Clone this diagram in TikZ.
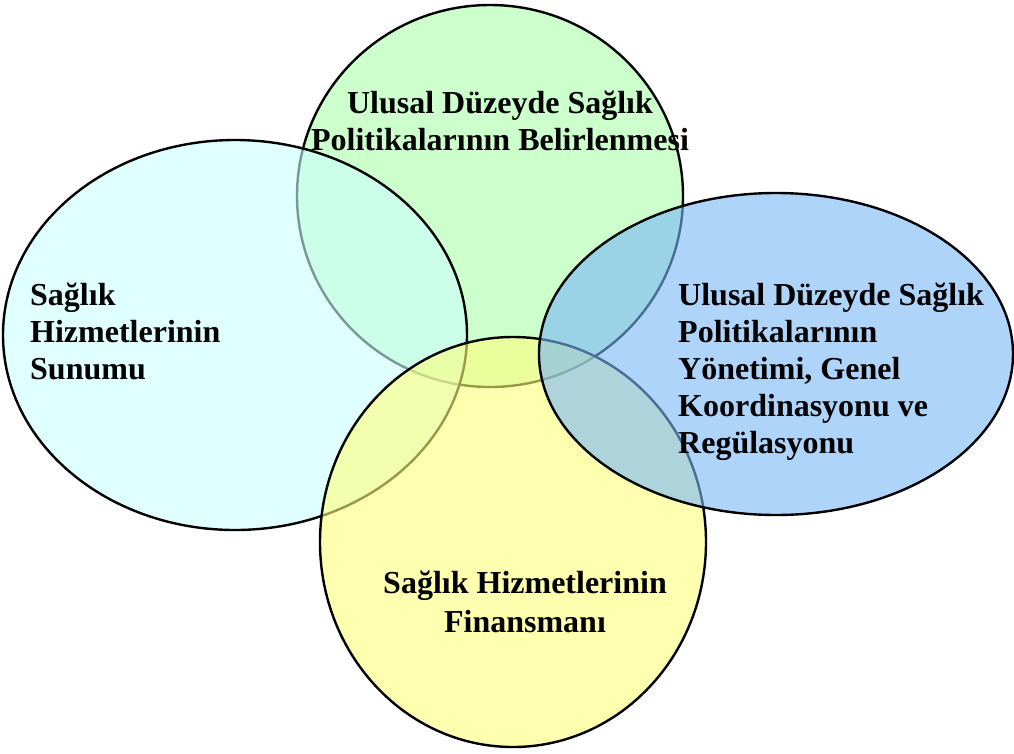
\documentclass[tikz,border=0pt]{standalone}
\usepackage{fontspec}
\setmainfont{Liberation Serif}
\begin{document}
\begin{tikzpicture}[x=1pt,y=-1pt,
    bubble/.style={line width=2.4pt, draw=black, fill opacity=0.6, draw opacity=1},
    label/.style={anchor=base west, inner sep=0pt, font=\fontsize{32}{37}\selectfont\bfseries},
    clabel/.style={anchor=base, inner sep=0pt, font=\fontsize{32}{37}\selectfont\bfseries}]
  \definecolor{cyanfill}{RGB}{203,255,255}
  \definecolor{greenfill}{RGB}{170,255,170}
  \definecolor{yellowfill}{RGB}{255,255,123}
  \definecolor{bluefill}{RGB}{122,183,247}
  \useasboundingbox (0,0) rectangle (1014,753);
  \clip (0,0) rectangle (1014,753);

  % four overlapping fields, later ones laid over earlier ones
  \path[bubble, fill=greenfill]  (490,196) ellipse [x radius=193pt, y radius=191pt];
  \path[bubble, fill=cyanfill]   (235,335) ellipse [x radius=232pt, y radius=195pt];
  \path[bubble, fill=yellowfill] (513,542) ellipse [x radius=193pt, y radius=205pt];
  \path[bubble, fill=bluefill]   (776,354) ellipse [x radius=237pt, y radius=161pt];

  % labels
  \node[clabel] (g1) at (500,113) {Ulusal Düzeyde Sağlık};
  \node[clabel] (g2) at (500,150) {Politikalarının Belirlenmesi};

  \node[label] (c1) at (30,305) {Sağlık};
  \node[label] (c2) at (30,342) {Hizmetlerinin};
  \node[label] (c3) at (30,379) {Sunumu};

  \node[label] (b1) at (678,305) {Ulusal Düzeyde Sağlık};
  \node[label] (b2) at (678,342) {Politikalarının};
  \node[label] (b3) at (678,379) {Yönetimi, Genel};
  \node[label] (b4) at (678,416) {Koordinasyonu ve};
  \node[label] (b5) at (678,453) {Regülasyonu};

  \node[clabel] (y1) at (525,593) {Sağlık Hizmetlerinin};
  \node[clabel] (y2) at (525,632) {Finansmanı};
\end{tikzpicture}
\end{document}
